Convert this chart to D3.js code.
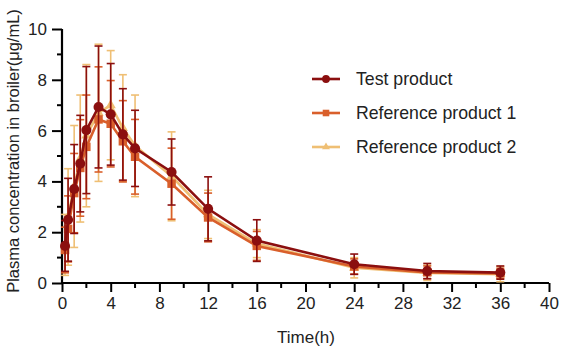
<!DOCTYPE html>
<html><head><meta charset="utf-8">
<script src="https://cdn.jsdelivr.net/npm/d3@7"></script>
<style>body{margin:0;background:#fff}svg{display:block}text{font-family:"Liberation Sans",Arial,sans-serif;fill:#222}</style>
</head><body><svg id="c" width="567" height="351"></svg>
<script>
const times = [0.25,0.5,1,1.5,2,3,4,5,6,9,12,16,24,30,36];
const seriesNames = ["Test product","Reference product 1","Reference product 2"];
const testMean = [1.46,2.49,3.7,4.7,6.02,6.93,6.64,5.85,5.3,4.37,2.92,1.67,0.74,0.47,0.41];
const testSD   = [1.0,1.63,1.75,1.9,2.5,2.4,2.0,1.8,1.5,1.3,1.26,0.82,0.4,0.3,0.26];
const ref1Mean = [1.3,2.13,3.54,4.53,5.36,6.44,6.27,5.58,4.97,3.91,2.58,1.46,0.65,0.42,0.38];
const ref1SD   = [0.9,1.3,1.56,1.9,2.04,2.07,1.7,1.6,1.47,1.4,0.96,0.57,0.3,0.25,0.2];
const ref2Mean = [1.5,2.6,3.8,4.9,5.8,6.7,7.0,6.1,5.4,4.2,2.7,1.55,0.6,0.4,0.35];
const ref2SD   = [1.2,1.9,2.4,2.5,2.8,2.7,2.15,2.1,2.0,1.75,0.95,0.55,0.4,0.3,0.3];
const xTicks = [0,4,8,12,16,20,24,28,32,36,40];
const yTicks = [0,2,4,6,8,10];
const colors = ["#8b0f0f","#d95f2b","#efbf74"];
const shapes = [d3.symbolCircle, d3.symbolSquare, d3.symbolTriangle];

const svg = d3.select("#c");
const x = d3.scaleLinear().domain([0,40]).range([62,549]);
const y = d3.scaleLinear().domain([0,10]).range([283,29]);

const series = [
  {name:seriesNames[0], mean:testMean, sd:testSD, color:colors[0], shape:shapes[0], size:80},
  {name:seriesNames[1], mean:ref1Mean, sd:ref1SD, color:colors[1], shape:shapes[1], size:72},
  {name:seriesNames[2], mean:ref2Mean, sd:ref2SD, color:colors[2], shape:shapes[2], size:45}
];

// axes
const xAxis = d3.axisBottom(x).tickValues(xTicks).tickSize(9).tickPadding(5);
const gx = svg.append("g").attr("transform","translate(0,283)").call(xAxis);
const xMinor = d3.range(2,40,4);
gx.selectAll(".minor").data(xMinor).enter().append("line").attr("class","minor")
  .attr("x1",d=>x(d)).attr("x2",d=>x(d)).attr("y1",0).attr("y2",5).attr("stroke","#000").attr("stroke-width",2);
const yAxis = d3.axisLeft(y).tickValues(yTicks).tickSize(10).tickPadding(5);
const gy = svg.append("g").attr("transform","translate(62,0)").call(yAxis);
const yMinor = [1,3,5,7,9];
gy.selectAll(".minor").data(yMinor).enter().append("line").attr("class","minor")
  .attr("y1",d=>y(d)).attr("y2",d=>y(d)).attr("x1",0).attr("x2",-5).attr("stroke","#000").attr("stroke-width",2);
[gx,gy].forEach(g=>{
  g.select(".domain").attr("stroke","#000").attr("stroke-width",2.2);
  g.selectAll(".tick line").attr("stroke","#000").attr("stroke-width",2);
  g.selectAll(".tick text").attr("font-size",17).attr("fill","#222").attr("font-family","Liberation Sans, Arial, sans-serif");
});
gx.select(".domain").attr("d","M"+x(0)+",0H"+x(40));
gy.select(".domain").attr("d","M0,"+y(0)+"V"+y(10));

svg.append("text").attr("x",306).attr("y",343).attr("text-anchor","middle").attr("font-size",17).text("Time(h)");
svg.append("text").attr("transform","translate(19,151) rotate(-90)").attr("text-anchor","middle").attr("font-size",16.5).text("Plasma concentration in broiler(μg/mL)");

// series, drawn ref2 first
const line = d3.line().x(d=>x(d.t)).y(d=>y(d.m));
[2,1,0].forEach(i=>{
  const s = series[i];
  const data = times.map((t,k)=>({t, m:s.mean[k], sd:s.sd[k]}));
  const g = svg.append("g");
  const eb = g.selectAll(".eb").data(data).enter().append("g");
  eb.append("line").attr("x1",d=>x(d.t)).attr("x2",d=>x(d.t)).attr("y1",d=>y(d.m+d.sd)).attr("y2",d=>y(Math.max(0,d.m-d.sd)))
    .attr("stroke",s.color).attr("stroke-width",1.6);
  [1,-1].forEach(sg=>{
    eb.append("line").attr("x1",d=>x(d.t)-4).attr("x2",d=>x(d.t)+4)
      .attr("y1",d=>y(Math.max(0,d.m+sg*d.sd))).attr("y2",d=>y(Math.max(0,d.m+sg*d.sd)))
      .attr("stroke",s.color).attr("stroke-width",1.6);
  });
  g.append("path").datum(data).attr("d",line).attr("fill","none").attr("stroke",s.color).attr("stroke-width",2.6);
  g.selectAll(".pt").data(data).enter().append("path")
    .attr("transform",d=>`translate(${x(d.t)},${y(d.m)})`)
    .attr("d",d3.symbol().type(s.shape).size(s.size)).attr("fill",s.color);
});

// legend
const ly = [79,113,147];
series.forEach((s,i)=>{
  const g = svg.append("g").attr("transform",`translate(0,${ly[i]})`);
  g.append("line").attr("x1",312).attr("x2",340).attr("y1",0).attr("y2",0).attr("stroke",s.color).attr("stroke-width",2.6);
  g.append("path").attr("transform","translate(326,0)").attr("d",d3.symbol().type(s.shape).size(s.size*0.6)).attr("fill",s.color);
  g.append("text").attr("x",356).attr("y",6.3).attr("font-size",17.7).text(s.name);
});
</script></body></html>
